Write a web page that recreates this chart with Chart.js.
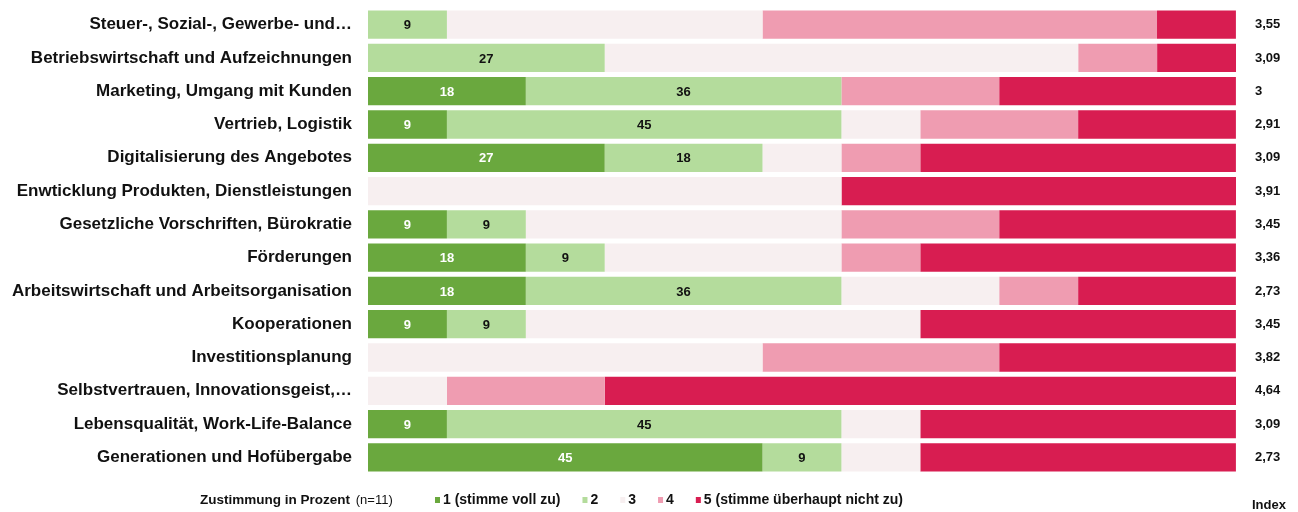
<!DOCTYPE html>
<html lang="de">
<head>
<meta charset="utf-8">
<script src="https://cdn.jsdelivr.net/npm/chart.js@4"></script>
<style>
  body { margin: 0; background: #fff; }
  #wrap { width: 1298px; height: 512px; }
</style>
</head>
<body>
<div id="wrap"><canvas id="myChart" width="1298" height="512"></canvas></div>
<script>
// Themen der Befragung
const kategorien = [
    "Steuer-, Sozial-, Gewerbe- und…",
    "Betriebswirtschaft und Aufzeichnungen",
    "Marketing, Umgang mit Kunden",
    "Vertrieb, Logistik",
    "Digitalisierung des Angebotes",
    "Enwticklung Produkten, Dienstleistungen",
    "Gesetzliche Vorschriften, Bürokratie",
    "Förderungen",
    "Arbeitswirtschaft und Arbeitsorganisation",
    "Kooperationen",
    "Investitionsplanung",
    "Selbstvertrauen, Innovationsgeist,…",
    "Lebensqualität, Work-Life-Balance",
    "Generationen und Hofübergabe"
]

// Zustimmung in Prozent je Stufe (n=11)
const stufe1 = [0, 0, 18.18, 9.09, 27.27, 0, 9.09, 18.18, 18.18, 9.09, 0, 0, 9.09, 45.45]
const stufe2 = [9.09, 27.27, 36.36, 45.45, 18.18, 0, 9.09, 9.09, 36.36, 9.09, 0, 0, 45.45, 9.09]
const stufe3 = [36.36, 54.55, 0, 9.09, 9.09, 54.55, 36.36, 27.27, 18.18, 45.45, 45.45, 9.09, 9.09, 9.09]
const stufe4 = [45.45, 9.09, 18.18, 18.18, 9.09, 0, 18.18, 9.09, 9.09, 0, 27.27, 18.18, 0, 0]
const stufe5 = [9.09, 9.09, 27.27, 18.18, 36.36, 45.45, 27.27, 36.36, 18.18, 36.36, 27.27, 72.73, 36.36, 36.36]

// Mittelwert je Thema
const indexWerte = ["3,55", "3,09", "3", "2,91", "3,09", "3,91", "3,45", "3,36", "2,73", "3,45", "3,82", "4,64", "3,09", "2,73"]

const legendeTexte = ["1 (stimme voll zu)", "2", "3", "4", "5 (stimme überhaupt nicht zu)"]
const farben = ["#6aa83e", "#b4dc9c", "#f7eff0", "#ef9cb1", "#d81d51"]

const schrift = '"Liberation Sans", Arial, sans-serif'

// Zahlen in den Balken, Index rechts und Legende unten
const beschriftung = {
    id: "beschriftung",
    afterDatasetsDraw (chart) {
        const ctx = chart.ctx
        const area = chart.chartArea
        ctx.save()
        ctx.textBaseline = "middle"
        ctx.font = "bold 13px " + schrift

        // nur Stufe 1 und 2 bekommen Werte
        ctx.textAlign = "center"
        ;[0, 1].forEach((i) => {
            const meta = chart.getDatasetMeta(i)
            meta.data.forEach((bar, j) => {
                const wert = chart.data.datasets[i].data[j]
                if (!wert) return
                ctx.fillStyle = i === 0 ? "#ffffff" : "#111111"
                ctx.fillText(Math.round(wert), (bar.x + bar.base) / 2, bar.y + 1)
            })
        })

        // Index
        ctx.textAlign = "left"
        ctx.fillStyle = "#111111"
        chart.getDatasetMeta(0).data.forEach((bar, j) => {
            ctx.fillText(indexWerte[j], area.right + 19, bar.y)
        })
        ctx.fillText("Index", area.right + 16, 505)

        // Legende
        const y = 500
        let x = 200
        ctx.font = "bold 13.5px " + schrift
        ctx.fillText("Zustimmung in Prozent", x, y)
        x += ctx.measureText("Zustimmung in Prozent ").width + 2
        ctx.font = "13px " + schrift
        ctx.fillText("(n=11)", x, y)
        x = 435
        ctx.font = "bold 14px " + schrift
        legendeTexte.forEach((text, i) => {
            ctx.fillStyle = farben[i]
            ctx.fillRect(x, y - 3, 5, 6)
            ctx.fillStyle = "#111111"
            ctx.fillText(text, x + 8, y)
            x += 8 + ctx.measureText(text).width + 22
        })
        ctx.restore()
    }
}

function renderGrafica () {
    const stufen = [stufe1, stufe2, stufe3, stufe4, stufe5]
    const datasets = stufen.map((data, i) => {
        return {
            label: legendeTexte[i],
            data,
            backgroundColor: farben[i],
            borderWidth: 0,
            categoryPercentage: 1,
            barPercentage: 0.85
        }
    })

    const config = {
        type: "bar",
        data: { labels: kategorien, datasets },
        options: {
            responsive: false,
            animation: false,
            indexAxis: "y",
            layout: { padding: { top: 8, bottom: 38, left: 0, right: 62 } },
            plugins: {
                legend: { display: false },
                tooltip: { enabled: false }
            },
            scales: {
                x: { stacked: true, min: 0, max: 100, display: false },
                y: {
                    stacked: true,
                    grid: { display: false },
                    border: { display: false },
                    ticks: {
                        color: "#111111",
                        padding: 8,
                        autoSkip: false,
                        font: { family: schrift, size: 17, weight: "bold" }
                    },
                    afterFit (scale) {
                        // feste Breite für die Beschriftung, kein Zusatzabstand oben/unten
                        scale.width = 368
                        scale.paddingTop = 0
                        scale.paddingBottom = 0
                    }
                }
            }
        },
        plugins: [beschriftung]
    }
    const myChart = document.getElementById("myChart")
    myChart.style.backgroundColor = "white"
    new Chart(myChart, config)
}
renderGrafica()
</script>
</body>
</html>
